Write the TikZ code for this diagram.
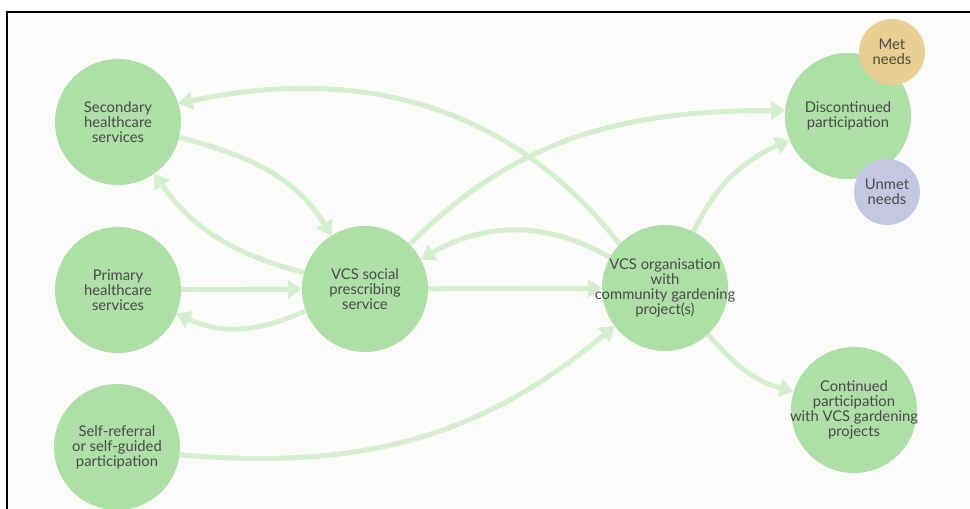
\documentclass[tikz,border=0pt]{standalone}
\usepackage{fontspec}
\setmainfont{Lato}
\usepackage{tikz}
\usetikzlibrary{arrows.meta}
\usetikzlibrary{positioning}
\definecolor{stagegreen}{RGB}{174,223,167}
\definecolor{flowgreen}{RGB}{213,238,208}
\definecolor{metcol}{RGB}{232,207,145}
\definecolor{unmetcol}{RGB}{197,198,226}
\definecolor{inkgrey}{RGB}{74,74,74}
\definecolor{paper}{RGB}{251,251,249}
\tikzset{stage/.style = {circle, fill=stagegreen, minimum size=126pt, inner sep=-20pt,
                         align=center, text=inkgrey,
                         font=\fontsize{14.8}{15}\selectfont}}
\tikzset{outcome/.style = {stage, minimum size=66pt}}
\tikzset{flow/.style = {draw=flowgreen, line width=5pt,
                        -{Triangle[length=14pt,width=18pt]}}}

\begin{document}
\begin{tikzpicture}[x=1pt, y=-1pt]
      \useasboundingbox (0,0) rectangle (970,509);
      \fill [paper] (7,12) rectangle (970,509);
      \draw [line width=2pt] (7,509) -- (7,12) -- (970,12);
      \node [stage] (sec) at (118,122) {Secondary\\healthcare\\services};
      \node [stage] (pri) at (118,290) {Primary\\healthcare\\services};
      \node [stage] (self) at (117,447) {Self-referral\\or self-guided\\participation};
      \node [stage] (soc) at (365,289) {VCS social\\prescribing\\service};
      \node [stage] (org) at (665,288) {VCS organisation\\with\\community gardening\\project(s)};
      \node [stage] (disc) at (848,116) {Discontinued\\participation};
      \node [stage] (cont) at (854,410) {Continued\\participation\\with VCS gardening\\projects};
      \node [outcome, fill=metcol] (met) at (892,52) {Met\\needs};
      \node [outcome, fill=unmetcol] (unmet) at (887,192) {Unmet\\needs};
      \draw [flow] (sec.-14) to [out=-15, in=122] (soc.122);
      \draw [flow] (soc.165) to [out=165, in=-55] (sec.-55);
      \draw [flow] (pri) -- (soc);
      \draw [flow] (soc.200) to [out=205, in=-25] (pri.-22);
      \draw [flow] (soc) -- (org);
      \draw [flow] (org.151) to [out=150, in=30] (soc.28);
      \draw [flow] (org.136) to [out=128, in=12] (sec.17);
      \draw [flow] (soc.45) to [out=45, in=180] (disc.175);
      \draw [flow] (org.63) to [out=65, in=-155] (disc.-158);
      \draw [flow] (org.-47) to [out=-50, in=165] (cont.163);
      \draw [flow] (self.-7) to [out=-5, in=-140] (org.-143);
    \end{tikzpicture}
\end{document}
